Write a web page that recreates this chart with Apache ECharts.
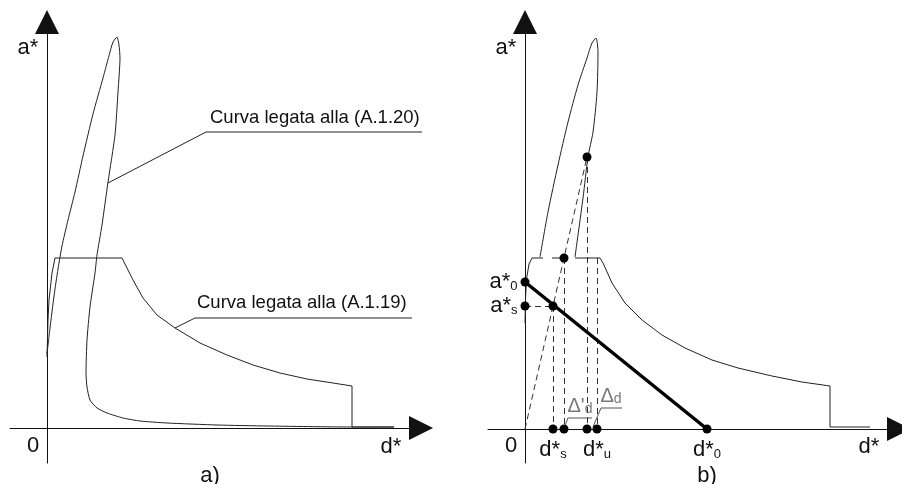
<!DOCTYPE html>
<html>
<head>
<meta charset="utf-8">
<script src="https://cdn.jsdelivr.net/npm/echarts/dist/echarts.min.js"></script>
<style>
html,body{margin:0;padding:0;background:#fff;}
#chart{width:902px;height:484px;}
</style>
</head>
<body>
<div id="chart"></div>
<script>
// ---- Panel a) : a*-d* plane ----
// capacity loop related to (A.1.20)
const loopA = [
  [0,7.4],[0.3,10.0],[0.7,13.2],[1.1,15.9],[1.5,18.2],[2.1,20.8],[2.8,23.6],[3.6,27.2],
  [4.6,31.4],[5.6,35.0],[6.3,37.6],[6.6,38.6],[7.0,39.1],[7.2,38.3],[7.3,37.0],[7.1,33.6],
  [6.8,29.3],[6.1,24.6],[5.5,20.3],[5.0,17.3],[4.8,15.5],[4.3,12.1],[4.0,8.8],[3.9,5.5],
  [4.0,4.1],[4.3,2.8],[5.0,2.0],[6.0,1.5],[7.6,1.0],[9.3,0.7],[12.0,0.5],[17.0,0.3],
  [22.0,0.2],[30.3,0.1],[34.7,0.1]
];
// spectrum related to (A.1.19)
const specA = [
  [0,7.1],[0.1,10.8],[0.2,12.8],[0.5,15.5],[0.8,17.0],[7.5,17.0],[8.6,14.8],[9.6,13.0],
  [11.0,11.3],[12.8,10.0],[15.3,8.5],[18.0,7.3],[20.6,6.3],[23.3,5.5],[26.0,4.9],
  [28.6,4.5],[30.5,4.2],[30.5,0.1],[34.7,0.1]
];

// ---- Panel b) : graphical construction ----
const loopB = [
  [1.5,17.2],[2.3,21.7],[3.3,26.4],[4.3,30.7],[5.3,34.4],[6.2,37.1],[6.7,38.6],[7.1,39.1],
  [7.3,37.7],[7.2,33.7],[6.8,29.7],[6.3,27.2],[5.8,23.1],[5.0,17.2]
];
const specB = [
  [0,10.6],[0.05,13.0],[0.15,15.0],[0.4,16.5],[0.7,17.1],[1.8,17.1],[1.8,'-'],
  [2.7,17.1],[3.6,17.1],[3.6,'-'],[5.0,17.1],[7.5,17.1],[7.8,16.6],[8.7,14.6],[10.0,12.6],
  [11.7,10.9],[13.7,9.4],[16.0,8.1],[18.7,6.9],[21.3,6.1],[24.7,5.3],[27.7,4.7],
  [30.5,4.3],[30.5,0.2],[34.5,0.2]
];
// characteristic values
const a0 = 14.7;   // a*0
const aS = 12.3;   // a*s
const aY = 17.1;   // plateau level
const aT = 27.2;   // point on the loop
const d0 = 18.2;   // d*0
const dS = 2.8;    // d*s
const dY = 3.9;
const dT = 6.2;
const dU = 7.2;    // d*u

const FONT = "'Liberation Sans', Arial, sans-serif";
const INK = '#222';

function axisPair(grid, xMin, xMax, yMin, yMax) {
  const line = {
    onZero: true,
    symbol: ['none', 'triangle'],
    symbolSize: [24, 24],
    lineStyle: { color: '#111', width: 1 }
  };
  return {
    x: { gridIndex: grid, type: 'value', min: xMin, max: xMax, axisLine: line,
         axisTick: { show: false }, axisLabel: { show: false }, splitLine: { show: false } },
    y: { gridIndex: grid, type: 'value', min: yMin, max: yMax, axisLine: line,
         axisTick: { show: false }, axisLabel: { show: false }, splitLine: { show: false } }
  };
}
const axA = axisPair(0, -3.7, 37.4, -3.5, 40.6);
const axB = axisPair(1, -3.7, 37.4, -3.4, 40.7);

const subRich = {
  m: { fontSize: 22, fontFamily: FONT, color: '#111', verticalAlign: 'bottom' },
  s: { fontSize: 13, fontFamily: FONT, color: '#111', verticalAlign: 'bottom' }
};
function dot(x, y, text, pos, dist) {
  const item = { value: [x, y] };
  if (text) {
    item.label = { show: true, position: pos, distance: dist, formatter: text, rich: subRich };
  }
  return item;
}

function curve(xi, data, smooth) {
  return {
    type: 'line', xAxisIndex: xi, yAxisIndex: xi, data: data, smooth: smooth,
    showSymbol: false, silent: true,
    lineStyle: { color: INK, width: 1 }
  };
}

const dashed = { color: '#333', width: 1, type: [6, 4] };
const deltaRich = {
  a: { fontSize: 20, fontFamily: FONT, color: '#555', verticalAlign: 'bottom' },
  b: { fontSize: 14, fontFamily: FONT, color: '#555', verticalAlign: 'bottom' }
};
function deltaTag(x, y, text) {
  return {
    value: [x, y],
    label: { show: true, position: [0, -1], align: 'left', verticalAlign: 'bottom',
             formatter: text, rich: deltaRich }
  };
}

const option = {
  backgroundColor: '#fff',
  animation: false,
  grid: [
    { left: 10, right: 481, top: 22, bottom: 21 },
    { left: 488, right: 3, top: 22, bottom: 21 }
  ],
  xAxis: [axA.x, axB.x],
  yAxis: [axA.y, axB.y],
  series: [
    // panel a
    curve(0, loopA, 0.2),
    curve(0, specA, false),
    {
      type: 'lines', coordinateSystem: 'cartesian2d', xAxisIndex: 0, yAxisIndex: 0,
      polyline: true, silent: true,
      lineStyle: { color: INK, width: 1, opacity: 1 },
      data: [
        { coords: [[6.1, 24.5], [15.9, 29.6], [37.7, 29.6]] },
        { coords: [[12.8, 10.0], [14.8, 11.0], [36.5, 11.0]] }
      ]
    },
    // panel b
    curve(1, loopB, 0.25),
    curve(1, specB, false),
    {
      type: 'lines', coordinateSystem: 'cartesian2d', xAxisIndex: 1, yAxisIndex: 1,
      silent: true, lineStyle: Object.assign({ opacity: 1 }, dashed),
      data: [
        { coords: [[0, 0], [dT, aT]] },
        { coords: [[0, aS], [dS, aS]] },
        { coords: [[dS, aS], [dS, 0]] },
        { coords: [[dY, aY], [dY, 0]] },
        { coords: [[dT, aT], [dT, 0]] },
        { coords: [[dU, aY], [dU, 0]] }
      ]
    },
    {
      type: 'lines', coordinateSystem: 'cartesian2d', xAxisIndex: 1, yAxisIndex: 1,
      polyline: true, silent: true,
      lineStyle: { color: '#555', width: 1, opacity: 1 },
      data: [
        { coords: [[3.95, 0.2], [4.3, 1.1], [6.7, 1.1]] },
        { coords: [[6.8, 0.2], [7.6, 2.1], [9.7, 2.1]] }
      ]
    },
    {
      type: 'scatter', xAxisIndex: 1, yAxisIndex: 1, silent: true,
      symbolSize: 1, itemStyle: { color: 'rgba(255,255,255,0)' },
      data: [
        deltaTag(4.3, 1.1, '{a|Δ\'}{b|d}'),
        deltaTag(7.6, 2.1, '{a|Δ}{b|d}')
      ]
    },
    {
      type: 'line', xAxisIndex: 1, yAxisIndex: 1, silent: true, showSymbol: false,
      data: [[0, a0], [d0, 0]],
      lineStyle: { color: '#000', width: 3.5 }
    },
    {
      type: 'scatter', xAxisIndex: 1, yAxisIndex: 1, silent: true,
      symbolSize: 9, itemStyle: { color: '#000', opacity: 1 }, z: 5,
      data: [
        dot(0, a0, '{m|a*}{s|0}', 'left', 3),
        dot(0, aS, '{m|a*}{s|s}', 'left', 3),
        dot(dS, aS),
        dot(dY, aY),
        dot(dT, aT),
        dot(dS, 0, '{m|d*}{s|s}', 'bottom', 5),
        dot(dY, 0),
        dot(dT, 0),
        dot(dU, 0, '{m|d*}{s|u}', 'bottom', 5),
        dot(d0, 0, '{m|d*}{s|0}', 'bottom', 5)
      ]
    }
  ],
  graphic: [
    { type: 'text', x: 28, y: 48, style: { text: 'a*', font: '22px ' + FONT, fill: '#111', align: 'center', verticalAlign: 'middle' } },
    { type: 'text', x: 33, y: 446, style: { text: '0', font: '22px ' + FONT, fill: '#111', align: 'center', verticalAlign: 'middle' } },
    { type: 'text', x: 391, y: 447, style: { text: 'd*', font: '22px ' + FONT, fill: '#111', align: 'center', verticalAlign: 'middle' } },
    { type: 'text', x: 210, y: 476, style: { text: 'a)', font: '22px ' + FONT, fill: '#111', align: 'center', verticalAlign: 'middle' } },
    { type: 'text', x: 210, y: 118, style: { text: 'Curva legata alla (A.1.20)', font: '18.5px ' + FONT, fill: '#111', align: 'left', verticalAlign: 'middle' } },
    { type: 'text', x: 197, y: 303, style: { text: 'Curva legata alla (A.1.19)', font: '18.5px ' + FONT, fill: '#111', align: 'left', verticalAlign: 'middle' } },
    { type: 'text', x: 506, y: 48, style: { text: 'a*', font: '22px ' + FONT, fill: '#111', align: 'center', verticalAlign: 'middle' } },
    { type: 'text', x: 511, y: 446, style: { text: '0', font: '22px ' + FONT, fill: '#111', align: 'center', verticalAlign: 'middle' } },
    { type: 'text', x: 869, y: 447, style: { text: 'd*', font: '22px ' + FONT, fill: '#111', align: 'center', verticalAlign: 'middle' } },
    { type: 'text', x: 707, y: 476, style: { text: 'b)', font: '22px ' + FONT, fill: '#111', align: 'center', verticalAlign: 'middle' } }
  ]
};

const chart = echarts.init(document.getElementById('chart'), null, { renderer: 'canvas' });
chart.setOption(option);
</script>
</body>
</html>
